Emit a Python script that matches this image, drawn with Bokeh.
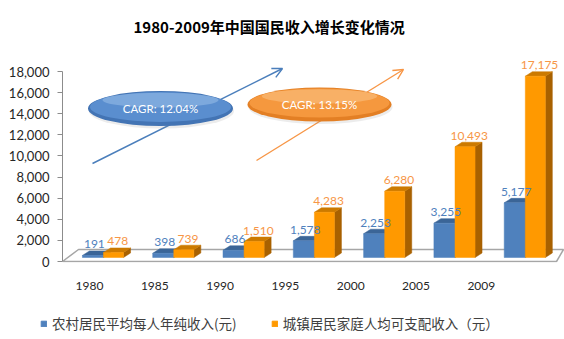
import numpy as np
from bokeh.plotting import figure
from bokeh.layouts import column, row
from bokeh.models import (Range1d, LinearAxis, FixedTicker, NumeralTickFormatter,
                          ColumnDataSource, Legend, LegendItem, Arrow, OpenHead, Title)
from bokeh.core.properties import value
from bokeh.embed import file_html
from bokeh.resources import INLINE

# ---------------- data ----------------
title_text = "1980-2009年中国国民收入增长变化情况"
years = ["1980", "1985", "1990", "1995", "2000", "2005", "2009"]
rural = [191, 398, 686, 1578, 2253, 3255, 5177]
urban = [478, 739, 1510, 4283, 6280, 10493, 17175]
series_names = ["农村居民平均每人年纯收入(元)", "城镇居民家庭人均可支配收入（元）"]
cagr_labels = ["CAGR: 12.04%", "CAGR: 13.15%"]
y_ticks = list(range(0, 18001, 2000))

# ---------------- geometry (pixels) ----------------
W, H = 564, 339
LEG_H = 36
MAIN_H = H - LEG_H
LEFT, RIGHT, TOP, BOTTOM = 62, 564, 44, 262
PX_PER_CAT = 70.3          # bar spacing
X0_PX = 103                # first bar-pair centre
LBL_PX_PER_CAT = 65.3      # perspective: tick labels spacing
LBL_X0_PX = 89
K = 190 / 18000            # px per value unit
BASE_PX = 257              # bar base (on the 3D floor)
AX0_PX = 261               # axis zero

BLUE, BLUE_TOP, BLUE_SIDE = "#4f81bd", "#3b6597", "#2f5583"
ORANGE, ORANGE_TOP, ORANGE_SIDE = "#ff9900", "#cc7a00", "#a86100"

def xd(px):
    return (px - X0_PX) / PX_PER_CAT

def yd(py):
    return (BASE_PX - py) / K

FONT = "Lato"
CJK = "Noto Sans CJK SC"

p = figure(width=W, height=MAIN_H,
           x_range=Range1d(xd(LEFT), xd(RIGHT)),
           y_range=Range1d(yd(BOTTOM), yd(TOP)),
           x_axis_type=None, y_axis_type=None,
           output_backend="svg", toolbar_location=None,
           min_border_left=LEFT, min_border_right=W - RIGHT,
           min_border_top=TOP, min_border_bottom=MAIN_H - BOTTOM)
p.outline_line_color = None
p.background_fill_color = "white"
p.border_fill_color = "white"

# title
t = Title(text=title_text, align="left", offset=71, standoff=15,
          text_font=CJK, text_font_size="15px", text_font_style="bold",
          text_color="#000000")
p.add_layout(t, "above")

# y axis
p.extra_y_ranges = {"ax": Range1d((AX0_PX - BOTTOM) / K, (AX0_PX - TOP) / K)}
yaxis = LinearAxis(y_range_name="ax", ticker=FixedTicker(ticks=y_ticks),
                   formatter=NumeralTickFormatter(format="0,0"),
                   bounds=(0, 18000))
yaxis.axis_line_color = "#8c8c8c"
yaxis.major_tick_line_color = "#8c8c8c"
yaxis.major_tick_out = 5
yaxis.major_tick_in = 0
yaxis.minor_tick_line_color = None
yaxis.major_label_text_font = FONT
yaxis.major_label_text_font_size = "13px"
yaxis.major_label_text_color = "#262626"
yaxis.major_label_standoff = 8
p.add_layout(yaxis, "left")

# x axis (tick labels in perspective position)
p.extra_x_ranges = {"lbl": Range1d((LEFT - LBL_X0_PX) / LBL_PX_PER_CAT,
                                   (RIGHT - LBL_X0_PX) / LBL_PX_PER_CAT)}
xaxis = LinearAxis(x_range_name="lbl", ticker=FixedTicker(ticks=list(range(len(years)))),
                   major_label_overrides={i: y for i, y in enumerate(years)})
xaxis.axis_line_color = None
xaxis.major_tick_line_color = None
xaxis.minor_tick_line_color = None
xaxis.major_label_text_font = FONT
xaxis.major_label_text_font_size = "12px"
xaxis.major_label_text_color = "#262626"
xaxis.major_label_standoff = 13
p.add_layout(xaxis, "below")

# 3D floor
p.patch(x=[xd(62), xd(556), xd(563), xd(78)],
        y=[yd(261), yd(261), yd(249), yd(249)],
        fill_color="white", line_color="#a6a6a6", line_width=1.5)

# bars with 3D faces
idx = np.arange(len(years))
DX = 7 / PX_PER_CAT
DY = 4.5 / K

def bar3d(left, right, top, front, topc, side):
    left = np.asarray(left, float); right = np.asarray(right, float); top = np.asarray(top, float)
    side_src = ColumnDataSource(dict(
        xs=[[r, r + DX, r + DX, r] for r in right],
        ys=[[0, DY, tp + DY, tp] for tp in top]))
    p.patches("xs", "ys", source=side_src, fill_color=side, line_color=side, line_width=0.5)
    top_src = ColumnDataSource(dict(
        xs=[[l, r, r + DX, l + DX] for l, r in zip(left, right)],
        ys=[[tp, tp, tp + DY, tp + DY] for tp in top]))
    p.patches("xs", "ys", source=top_src, fill_color=topc, line_color=topc, line_width=0.5)
    return p.quad(left=left, right=right, bottom=0, top=top,
                  fill_color=front, line_color=front, line_width=0.5)

bar3d(idx - 0.30, idx, rural, BLUE, BLUE_TOP, BLUE_SIDE)
bar3d(idx, idx + 0.285, urban, ORANGE, ORANGE_TOP, ORANGE_SIDE)

# value labels
fmt = lambda v: f"{v:,}"
p.text(x=idx - 0.15 + 0.02, y=rural, text=[fmt(v) for v in rural], y_offset=-7,
       text_align="center", text_baseline="bottom", text_font=value(FONT),
       text_font_size="12px", text_color="#4f81bd")
p.text(x=idx + 0.1425 + 0.06, y=urban, text=[fmt(v) for v in urban], y_offset=-7,
       text_align="center", text_baseline="bottom", text_font=value(FONT),
       text_font_size="12px", text_color="#f79646")

# CAGR arrows
for (xs, ys, xe, ye), col in [((92, 163, 282, 68), "#4a7ebb"), ((256, 160, 403, 69), "#f79646")]:
    a = Arrow(x_start=xd(xs), y_start=yd(ys), x_end=xd(xe), y_end=yd(ye),
              line_color=col, line_width=1.4,
              end=OpenHead(size=10, line_color=col, line_width=1.4), level="underlay")
    p.add_layout(a)

# CAGR bubbles
bubbles = [((160, 108), (145, 35), ("#4374b4", "#5a8ecf", "#a9c9ee"), cagr_labels[0]),
           ((319, 104), (144, 34), ("#e37f24", "#f5983e", "#fccf96"), cagr_labels[1])]
for (cx, cy), (bw, bh), (c0, c1, c2), lab in bubbles:
    p.ellipse(x=[xd(cx + 1)], y=[yd(cy + 2.5)], width=bw, height=bh,
              width_units="screen", height_units="screen",
              fill_color="#808080", fill_alpha=0.15, line_color=None)
    p.ellipse(x=[xd(cx)], y=[yd(cy)], width=bw, height=bh,
              width_units="screen", height_units="screen",
              fill_color=c0, line_color=None)
    p.ellipse(x=[xd(cx)], y=[yd(cy - 1.5)], width=bw - 4, height=bh - 5,
              width_units="screen", height_units="screen",
              fill_color=c1, line_color=None)
    p.ellipse(x=[xd(cx)], y=[yd(cy - bh * 0.24)], width=bw * 0.8, height=bh * 0.42,
              width_units="screen", height_units="screen",
              fill_color=c2, fill_alpha=0.45, line_color=None)
    p.text(x=[xd(cx)], y=[yd(cy)], text=[lab], text_align="center", text_baseline="middle",
           text_font=value(FONT), text_font_size="11.5px", text_color="white")

# legend strip
pl = figure(width=W, height=LEG_H, x_range=Range1d(0, 1), y_range=Range1d(0, 1),
            x_axis_type=None, y_axis_type=None, output_backend="svg",
            toolbar_location=None, min_border=0)
pl.outline_line_color = None
pl.grid.visible = False
lb = pl.quad(left=[5], right=[6], bottom=[5], top=[6], fill_color=BLUE, line_color=BLUE)
lo = pl.quad(left=[5], right=[6], bottom=[5], top=[6], fill_color=ORANGE, line_color=ORANGE)
legend = Legend(items=[LegendItem(label=series_names[0], renderers=[lb]),
                       LegendItem(label=series_names[1], renderers=[lo])],
                location=(40, 6), orientation="horizontal",
                glyph_width=7, glyph_height=7, label_standoff=5, spacing=34,
                padding=0, margin=0, border_line_color=None,
                background_fill_alpha=0,
                label_text_font=CJK, label_text_font_size="13.5px",
                label_text_color="#404040")
pl.add_layout(legend)

layout = column(p, row(pl), spacing=0)
open("out.html", "w").write(file_html(layout, INLINE))
